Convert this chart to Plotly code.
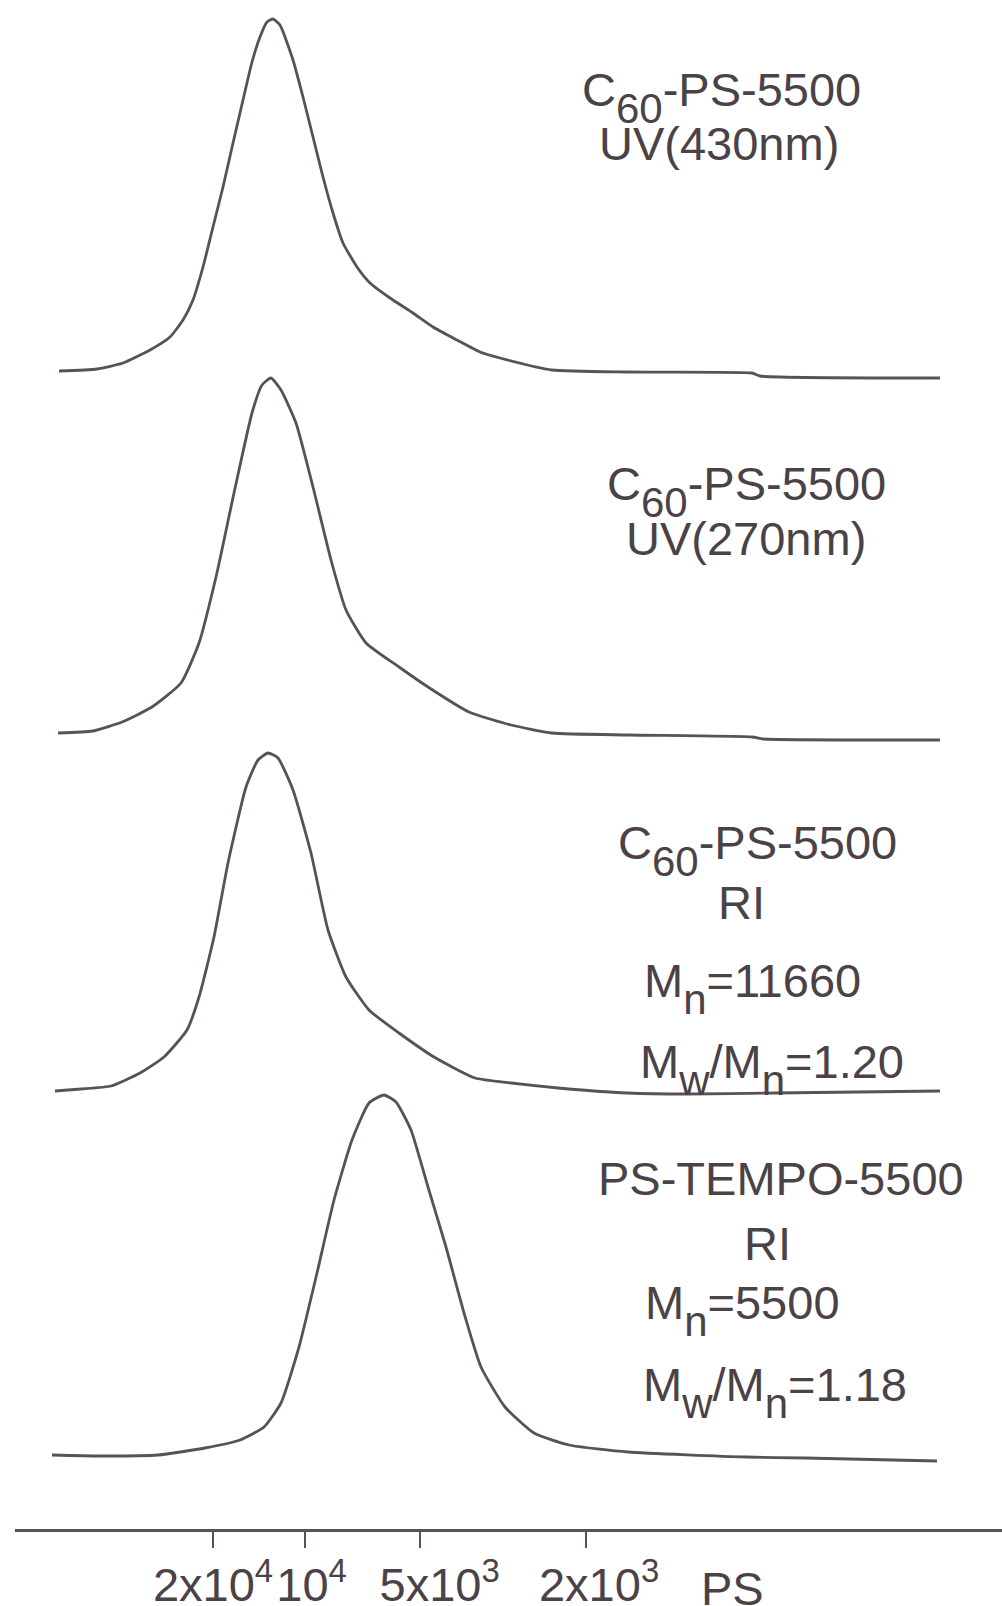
import plotly.graph_objects as go

# ---- data (x: elution position, a.u.; y: detector signal + stack offset, a.u.) ----
x_uv430 = [59, 97, 123, 150, 170, 183, 193, 203, 213, 223, 233, 243, 252, 260, 267, 273, 280, 293, 303, 313,
           323, 333, 343, 357, 370, 390, 413, 433, 457, 480, 500, 552, 628, 752, 760, 940]
y_uv430 = [1158, 1160, 1166, 1179, 1192, 1209, 1229, 1262, 1302, 1342, 1386, 1429, 1467, 1492, 1507, 1510, 1504,
           1469, 1432, 1392, 1352, 1316, 1286, 1262, 1246, 1231, 1216, 1202, 1189, 1177, 1171, 1159, 1157, 1156,
           1153, 1151]

x_uv270 = [58, 93, 122, 152, 181, 199, 216, 234, 252, 262, 271, 281, 296, 313, 331, 346, 366, 399, 428, 469,
           511, 552, 628, 752, 763, 940]
y_uv270 = [796, 798, 807, 822, 846, 886, 952, 1036, 1116, 1144, 1151, 1139, 1106, 1042, 969, 919, 886, 862, 842,
           817, 804, 796, 794, 792, 790, 789]

x_ri_c60 = [55, 81, 111, 140, 164, 187, 199, 214, 228, 246, 258, 268, 278, 293, 311, 328, 346, 369, 399, 434,
            475, 511, 558, 628, 687, 775, 940]
y_ri_c60 = [438, 440, 443, 456, 472, 499, 532, 592, 666, 742, 769, 776, 771, 739, 676, 599, 552, 519, 496, 472,
            451, 446, 441, 436, 435, 436, 438]

x_ri_tempo = [52, 99, 158, 205, 240, 264, 281, 299, 317, 334, 352, 369, 384, 396, 411, 428, 446, 464, 481, 505,
              534, 569, 628, 746, 805, 937]
y_ri_tempo = [74, 73, 74, 81, 89, 102, 126, 182, 256, 329, 389, 426, 434, 427, 399, 342, 282, 216, 162, 122, 96,
              84, 77, 72, 71, 68]

tick_positions = [213, 305, 420, 586]
tick_labels = ["2x10<sup>4</sup>", "\u00a010<sup>4</sup>", "\u00a0\u00a0\u00a05x10<sup>3</sup>",
               "\u00a0\u00a02x10<sup>3</sup>"]
axis_unit = "PS"

LINE = "#5a5155"
TEXT = "#4a4246"
FONT = "Arial, Liberation Sans, sans-serif"
FS = 47          # main label size
FS_SUB = 42      # subscript size (large, as in the original)
FS_BASE = 80     # base size so that the subscript drop (0.21 em) is ~17 px


def main(s):
    return "<span style='font-size:%dpx'>%s</span>" % (FS, s)


def sub(s):
    return "<sub><span style='font-size:%dpx'>%s</span></sub>" % (FS_SUB, s)


fig = go.Figure()
for xs, ys, name in [(x_uv430, y_uv430, "UV430"), (x_uv270, y_uv270, "UV270"),
                     (x_ri_c60, y_ri_c60, "RI C60"), (x_ri_tempo, y_ri_tempo, "RI TEMPO")]:
    fig.add_trace(go.Scatter(x=xs, y=ys, mode="lines", name=name,
                             line=dict(color=LINE, width=2.8, shape="spline", smoothing=0.5),
                             showlegend=False, hoverinfo="skip"))

c60 = main("C") + sub("60") + main("-PS-5500")
labels = [
    (c60, 721, 1432, True),
    ("UV(430nm)", 719, 1386, False),
    (c60, 746, 1038, True),
    ("UV(270nm)", 746, 991, False),
    (c60, 757, 679, True),
    ("RI", 741, 627, False),
    (main("M") + sub("n") + main("=11660"), 752, 541, True),
    (main("M") + sub("w") + main("/M") + sub("n") + main("=1.20"), 772, 460, True),
    ("PS-TEMPO-5500", 781, 351, False),
    ("RI", 767, 286, False),
    (main("M") + sub("n") + main("=5500"), 742, 219, True),
    (main("M") + sub("w") + main("/M") + sub("n") + main("=1.18"), 775, 137, True),
]
for txt, x, y, has_sub in labels:
    fig.add_annotation(x=x, y=y, xref="x", yref="y", text=txt, showarrow=False,
                       xanchor="center", yanchor="middle",
                       font=dict(family=FONT, size=FS_BASE if has_sub else FS, color=TEXT))

fig.add_annotation(x=732, y=-0.039, xref="x", yref="paper", text=axis_unit, showarrow=False,
                   xanchor="center", yanchor="middle", font=dict(family=FONT, size=FS, color=TEXT))

fig.update_xaxes(range=[15, 1002], showgrid=False, zeroline=False, showline=True, linecolor=LINE, linewidth=3,
                 ticks="outside", ticklen=16, tickwidth=2, tickcolor=LINE, tickangle=0, automargin=False,
                 ticklabelstandoff=-3,
                 tickvals=tick_positions, ticktext=tick_labels,
                 tickfont=dict(family=FONT, size=FS, color=TEXT))
fig.update_yaxes(range=[0, 1529], showgrid=False, zeroline=False, showline=False, showticklabels=False,
                 ticks="", automargin=False)

fig.update_layout(width=1002, height=1606, margin=dict(l=15, r=0, t=0, b=77, autoexpand=False),
                  paper_bgcolor="white", plot_bgcolor="white")

fig.write_html("out.html", config={"displayModeBar": False},
               post_script="document.body.style.margin='0px';")
